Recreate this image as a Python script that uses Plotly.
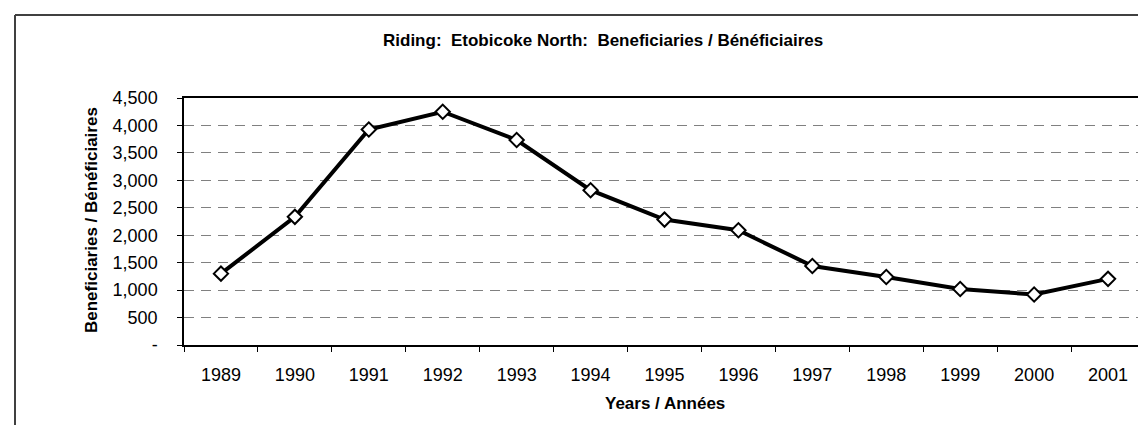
import plotly.graph_objects as go

years = ["1989", "1990", "1991", "1992", "1993", "1994", "1995",
         "1996", "1997", "1998", "1999", "2000", "2001"]
beneficiaries = [1300, 2335, 3925, 4250, 3735, 2820, 2285,
                 2090, 1440, 1240, 1020, 920, 1205]
y_tick_vals = [0, 500, 1000, 1500, 2000, 2500, 3000, 3500, 4000, 4500]
y_tick_text = ["-", "500", "1,000", "1,500", "2,000", "2,500", "3,000",
               "3,500", "4,000", "4,500"]

W, H = 1146, 425
L, R, T, B = 176, 1137, 90, 337

BOLD = "Liberation Sans Narrow, Arial Narrow, Liberation Sans, Arial, sans-serif"
REG = "Liberation Sans, Arial, sans-serif"

fig = go.Figure()
fig.add_trace(go.Scatter(
    x=years, y=beneficiaries, mode="lines+markers",
    line=dict(color="black", width=4),
    marker=dict(symbol="diamond", size=11, color="white",
                line=dict(color="black", width=2)),
    showlegend=False, hoverinfo="x+y",
))

def px_x(p):
    return (p - L) / (R - L)

def px_y(p):
    return (B - p) / (B - T)

fig.update_layout(
    width=W, height=H,
    margin=dict(l=L, r=W - R, t=T, b=H - B),
    paper_bgcolor="white", plot_bgcolor="white",
    annotations=[
        dict(text="<b>Riding:  Etobicoke North:  Beneficiaries / Bénéficiaires</b>",
             xref="paper", yref="paper", x=px_x(595), y=px_y(32),
             xanchor="center", yanchor="middle", showarrow=False,
             font=dict(family=BOLD, size=17, color="black")),
        dict(text="<b>Years / Années</b>",
             xref="paper", yref="paper", x=px_x(657), y=px_y(395),
             xanchor="center", yanchor="middle", showarrow=False,
             font=dict(family=BOLD, size=17, color="black")),
        dict(text="<b>Beneficiaries / Bénéficiaires</b>",
             xref="paper", yref="paper", x=px_x(83), y=px_y(212),
             xanchor="center", yanchor="middle", showarrow=False, textangle=-90,
             font=dict(family=BOLD, size=17, color="black")),
    ],
    shapes=[
        # outer chart frame (top and left visible)
        dict(type="line", xref="paper", yref="paper",
             x0=px_x(7), x1=px_x(1150), y0=px_y(7), y1=px_y(7),
             line=dict(color="#404040", width=2)),
        dict(type="line", xref="paper", yref="paper",
             x0=px_x(7), x1=px_x(7), y0=px_y(7), y1=px_y(430),
             line=dict(color="#404040", width=2)),
        # plot area right border
        dict(type="line", xref="paper", yref="paper",
             x0=1, x1=1, y0=px_y(343), y1=1,
             line=dict(color="#808080", width=1.5)),
    ],
)

fig.update_xaxes(
    type="category", range=[-0.5, len(years) - 0.5],
    showline=True, linecolor="black", linewidth=1.5, mirror=True,
    ticks="outside", tickson="boundaries", ticklen=5, tickcolor="black", tickwidth=1,
    ticklabelstandoff=13,
    showgrid=False, zeroline=False,
    tickfont=dict(family=REG, size=18, color="black"),
)
fig.update_yaxes(
    range=[0, 4500], tickvals=y_tick_vals, ticktext=y_tick_text,
    showline=True, linecolor="black", linewidth=1.5,
    ticks="outside", ticklen=5, tickcolor="black", tickwidth=1,
    ticklabelstandoff=16,
    showgrid=True, gridcolor="#808080", gridwidth=1, griddash="10px,7px",
    zeroline=False,
    tickfont=dict(family=REG, size=18, color="black"),
)

fig.write_html("out.html")
